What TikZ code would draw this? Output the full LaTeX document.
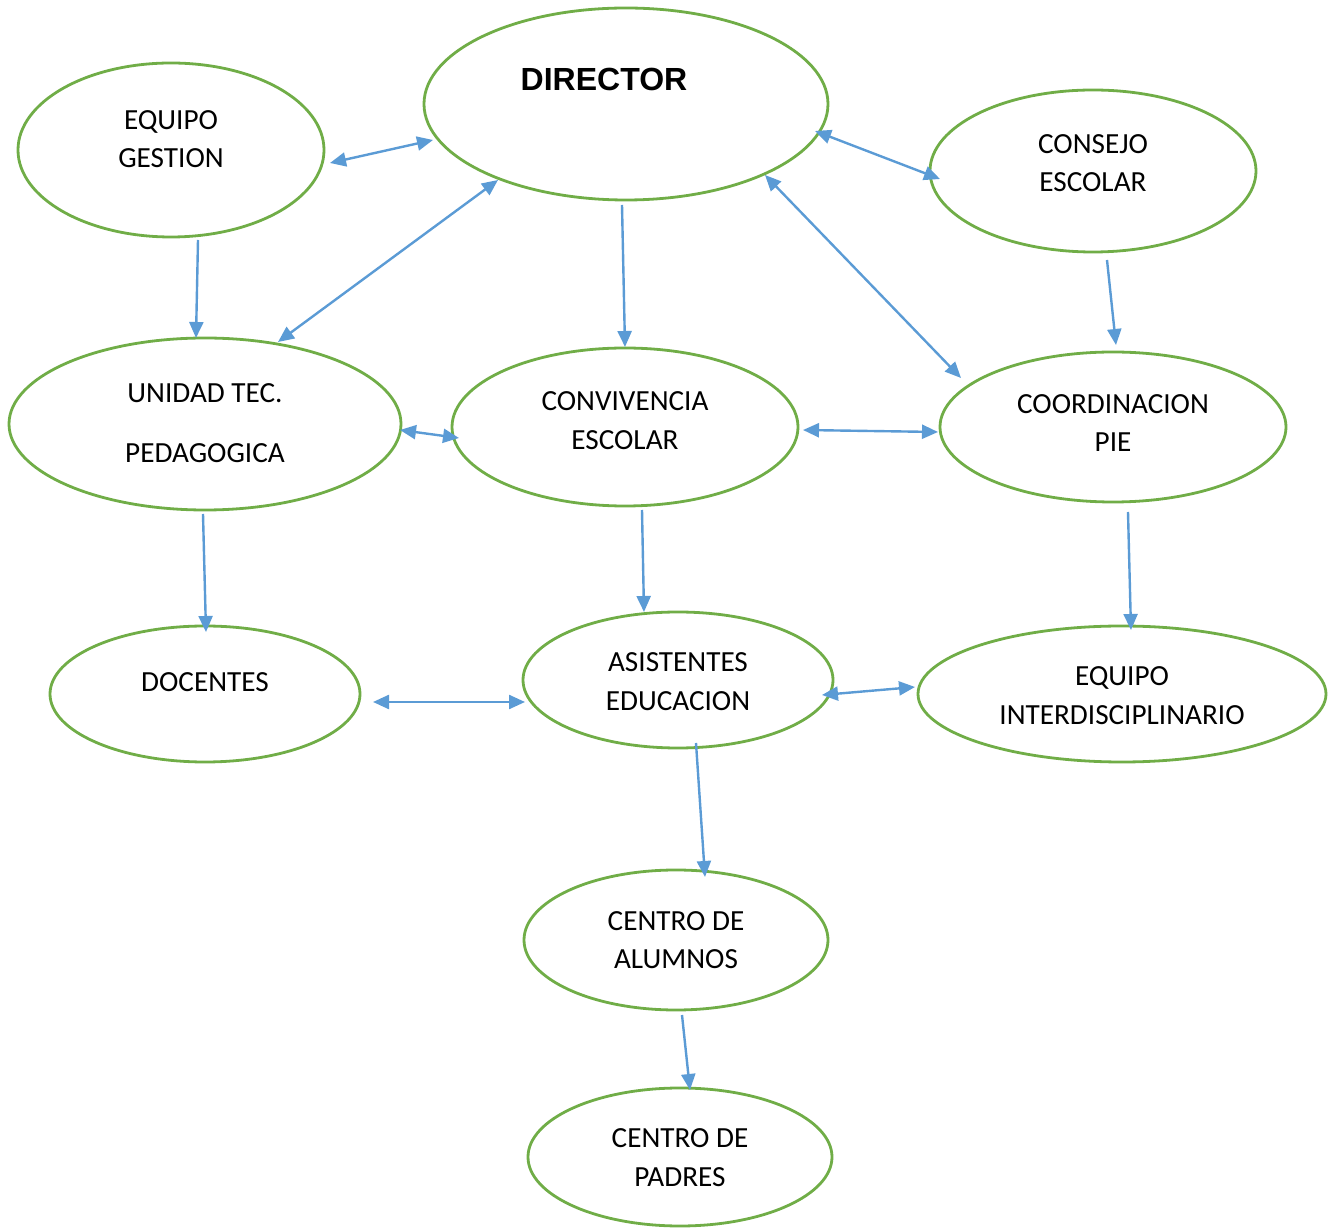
\documentclass[tikz,border=0pt]{standalone}
\usepackage{fontspec}
\setmainfont{Carlito}
\newfontfamily\arialbold{Liberation Sans}[BoldFont={* Bold}]
\usetikzlibrary{arrows.meta,shapes.geometric}
\definecolor{ovgreen}{HTML}{70AD47}
\definecolor{arblue}{HTML}{5B9BD5}
\tikzset{
  oval/.style 2 args={draw=ovgreen, line width=1.4pt, ellipse, inner sep=0pt,
    minimum width=#1*1pt, minimum height=#2*1pt},
  lbl/.style={anchor=base, inner sep=0pt, font=\fontsize{14.6pt}{16pt}\selectfont},
  conn/.style={draw=arblue, line width=1.2pt, -{Triangle[length=8pt,width=7pt]}},
  bconn/.style={draw=arblue, line width=1.2pt, {Triangle[length=8pt,width=7pt]}-{Triangle[length=8pt,width=7pt]}},
}
\begin{document}
\begin{tikzpicture}[x=0.5pt,y=-0.5pt]
\useasboundingbox (0,0) rectangle (1340,1229);
% ovals
\node[oval={202}{96}] (dir) at (626,104) {};
\node[oval={153}{87}] (eg) at (171,150) {};
\node[oval={163}{81}] (ce) at (1093,171) {};
\node[oval={196}{86}] (utp) at (205,424) {};
\node[oval={173}{79}] (conv) at (625,427) {};
\node[oval={173}{75}] (coord) at (1113,427) {};
\node[oval={155}{68}] (doc) at (205,694) {};
\node[oval={155}{68}] (asis) at (678,680) {};
\node[oval={204}{68}] (ei) at (1122,694) {};
\node[oval={152}{70}] (ca) at (676,940) {};
\node[oval={152}{69}] (cp) at (680,1157) {};
% labels
\node[anchor=base, inner sep=0pt, font=\arialbold\bfseries\fontsize{16pt}{18pt}\selectfont] (tdir) at (604,90.5) {DIRECTOR};
\node[lbl] (teg1) at (171,129.5) {EQUIPO};
\node[lbl] (teg2) at (171,167.5) {GESTION};
\node[lbl] (tce1) at (1093,153.5) {CONSEJO};
\node[lbl] (tce2) at (1093,191.5) {ESCOLAR};
\node[lbl] (tutp1) at (205,402.5) {UNIDAD TEC.};
\node[lbl] (tutp2) at (205,462.5) {PEDAGOGICA};
\node[lbl] (tconv1) at (625,410.5) {CONVIVENCIA};
\node[lbl] (tconv2) at (625,449.5) {ESCOLAR};
\node[lbl] (tco1) at (1113,413.5) {COORDINACION};
\node[lbl] (tco2) at (1113,451.5) {PIE};
\node[lbl] (tdoc) at (205,691.5) {DOCENTES};
\node[lbl] (tas1) at (678,671.5) {ASISTENTES};
\node[lbl] (tas2) at (678,710.5) {EDUCACION};
\node[lbl] (tei1) at (1122,685.5) {EQUIPO};
\node[lbl] (tei2) at (1122,724.5) {INTERDISCIPLINARIO};
\node[lbl] (tca1) at (676,930.5) {CENTRO DE};
\node[lbl] (tca2) at (676,968.5) {ALUMNOS};
\node[lbl] (tcp1) at (680,1147.5) {CENTRO DE};
\node[lbl] (tcp2) at (680,1186.5) {PADRES};
% connector end points
\coordinate (a1) at (330,163); \coordinate (a2) at (433,140);
\coordinate (b1) at (498,180); \coordinate (b2) at (278,342);
\coordinate (c1) at (622,205); \coordinate (c2) at (625,347);
\coordinate (d1) at (765,175); \coordinate (d2) at (961,378);
\coordinate (e1) at (815,131); \coordinate (e2) at (940,179);
\coordinate (f1) at (198,240); \coordinate (f2) at (196,338);
\coordinate (g1) at (1107,260); \coordinate (g2) at (1116,345);
\coordinate (h1) at (400,430); \coordinate (h2) at (459,438);
\coordinate (i1) at (803,430); \coordinate (i2) at (938,432);
\coordinate (j1) at (203,514); \coordinate (j2) at (206,632);
\coordinate (k1) at (642,510); \coordinate (k2) at (644,612);
\coordinate (l1) at (1128,512); \coordinate (l2) at (1131,630);
\coordinate (m1) at (373,702); \coordinate (m2) at (525,702);
\coordinate (n1) at (822,695); \coordinate (n2) at (915,687);
\coordinate (o1) at (696,743); \coordinate (o2) at (705,877);
\coordinate (p1) at (682,1015); \coordinate (p2) at (690,1090);
% connectors
\draw[bconn] (a1) -- (a2);
\draw[bconn] (b1) -- (b2);
\draw[conn] (c1) -- (c2);
\draw[bconn] (d1) -- (d2);
\draw[bconn] (e1) -- (e2);
\draw[conn] (f1) -- (f2);
\draw[conn] (g1) -- (g2);
\draw[bconn] (h1) -- (h2);
\draw[bconn] (i1) -- (i2);
\draw[conn] (j1) -- (j2);
\draw[conn] (k1) -- (k2);
\draw[conn] (l1) -- (l2);
\draw[bconn] (m1) -- (m2);
\draw[bconn] (n1) -- (n2);
\draw[conn] (o1) -- (o2);
\draw[conn] (p1) -- (p2);
\end{tikzpicture}
\end{document}
